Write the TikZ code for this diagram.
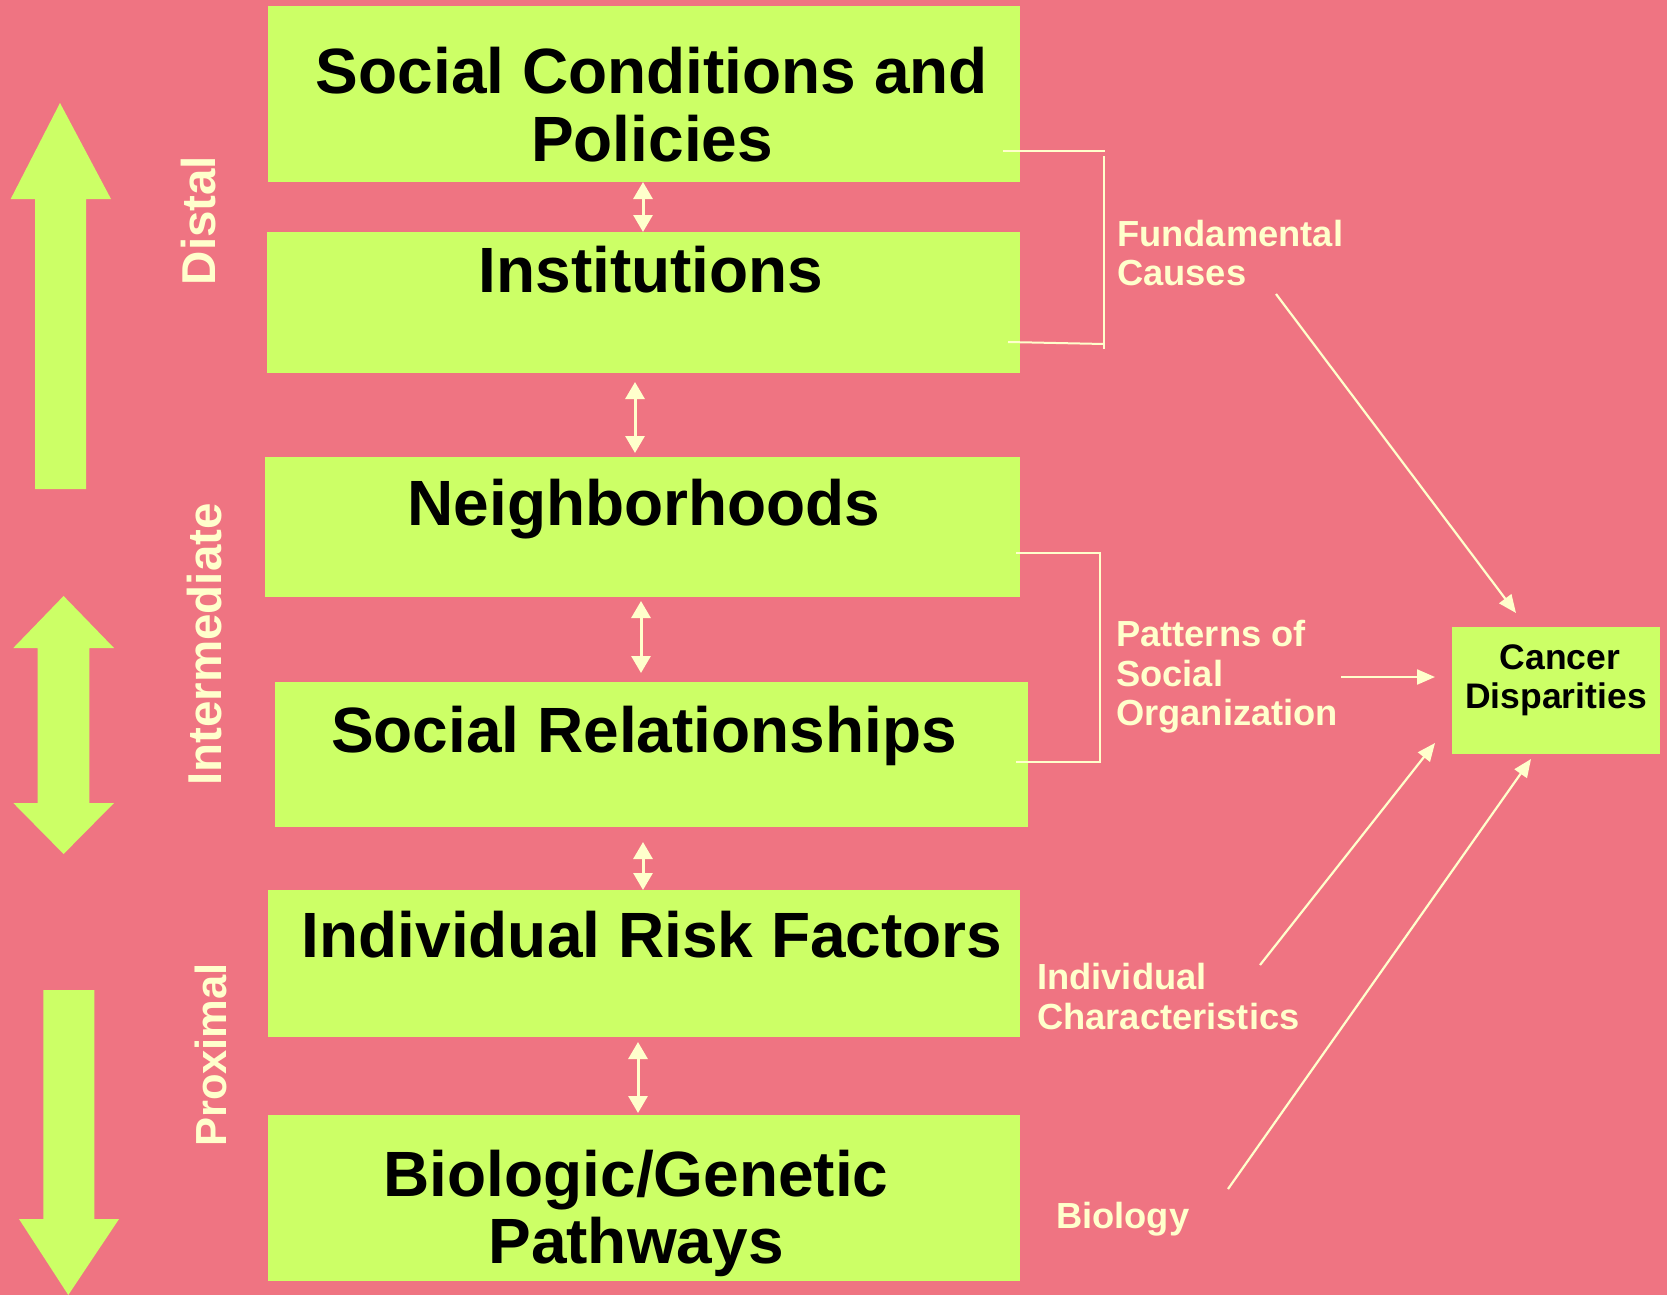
\documentclass[tikz,border=0pt]{standalone}
\usepackage{fontspec}
\setmainfont{Liberation Sans}
\usetikzlibrary{arrows.meta}
\definecolor{bgpink}{RGB}{239,116,130}
\definecolor{boxgreen}{RGB}{204,255,102}
\definecolor{cream}{RGB}{255,255,204}

\begin{document}
\begin{tikzpicture}[x=1pt,y=-1pt,
  level/.style={fill=boxgreen, draw=none, inner sep=0pt, outer sep=0pt},
  bigtext/.style={font=\fontsize{64}{68}\selectfont\bfseries, anchor=base, inner sep=0pt},
  smalltext/.style={font=\fontsize{35.5}{39}\selectfont\bfseries, anchor=base, inner sep=0pt},
  sidetext/.style={font=\fontsize{36.3}{39}\selectfont\bfseries, text=cream, anchor=base west, inner sep=0pt},
  scaletext/.style={font=\fontsize{47.5}{50}\selectfont\bfseries, text=cream, anchor=base, rotate=90, inner sep=0pt},
  linktip/.tip={Triangle[width=19pt,length=17pt]},
  feedtip/.tip={Triangle[width=15pt,length=18pt]},
  link/.style={draw=cream, line width=3pt, linktip-linktip},
  feed/.style={draw=cream, line width=2.2pt, -feedtip},
  brace/.style={draw=cream, line width=2pt},
  bigarrow/.style={fill=boxgreen}
]
% canvas
\useasboundingbox (0,0) rectangle (1667,1295);
\fill[bgpink] (0,0) rectangle (1667,1295);

% direction arrows on the left
\fill[bigarrow] (60,103) -- (111,199) -- (86,199) -- (86,489) -- (35,489) -- (35,199) -- (10.7,199) -- cycle;
\fill[bigarrow] (63.6,596) -- (114,648) -- (89.3,648) -- (89.3,803) -- (114,803) -- (63.6,854)
  -- (13.3,803) -- (37.7,803) -- (37.7,648) -- (13.3,648) -- cycle;
\fill[bigarrow] (43.3,990) -- (94.3,990) -- (94.3,1219) -- (119,1219) -- (68.3,1295) -- (19,1219) -- (43.3,1219) -- cycle;

% scale labels
\node[scaletext] (dist) at (215,220.5) {Distal};
\node[scaletext] (inter) at (221,644.5) {Intermediate};
\node[scaletext, font=\fontsize{43.5}{46}\selectfont\bfseries] (prox) at (226,1055) {Proximal};

% levels
\node[level, minimum width=752pt, minimum height=176pt] (b1) at (644,94) {};
\node[level, minimum width=753pt, minimum height=141pt] (b2) at (643.5,302.5) {};
\node[level, minimum width=755pt, minimum height=140pt] (b3) at (642.5,527) {};
\node[level, minimum width=753pt, minimum height=145.5pt] (b4) at (651.5,754.25) {};
\node[level, minimum width=752pt, minimum height=146.5pt] (b5) at (644,963.25) {};
\node[level, minimum width=752pt, minimum height=166pt] (b6) at (644,1198) {};
\node[level, minimum width=208pt, minimum height=127pt] (cd) at (1556,690.5) {};

% level titles
\node[bigtext] (t1a) at (652,94) {Social Conditions and};
\node[bigtext] (t1b) at (652,161.5) {Policies};
\node[bigtext] (t2) at (651,292) {Institutions};
\node[bigtext] (t3) at (644,525) {Neighborhoods};
\node[bigtext] (t4) at (644,752) {Social Relationships};
\node[bigtext] (t5) at (652,957) {Individual Risk Factors};
\node[bigtext] (t6a) at (636,1196) {Biologic/Genetic};
\node[bigtext] (t6b) at (636,1263) {Pathways};
\node[smalltext] (cda) at (1560,669) {Cancer};
\node[smalltext] (cdb) at (1556,708) {Disparities};

% links between neighbouring levels
\coordinate (x1) at (643,0);
\coordinate (x2) at (635,0);
\coordinate (x3) at (641,0);
\coordinate (x4) at (643,0);
\coordinate (x5) at (638,0);
\draw[link] (b1.south -| x1) -- (b2.north -| x1);
\draw[link, shorten <=9pt, shorten >=4pt] (b2.south -| x2) -- (b3.north -| x2);
\draw[link, shorten <=4pt, shorten >=8.5pt] (b3.south -| x3) -- (b4.north -| x3);
\draw[link, shorten <=15pt] (b4.south -| x4) -- (b5.north -| x4);
\draw[link, shorten <=5.5pt, shorten >=2pt] (b5.south -| x5) -- (b6.north -| x5);

% brackets
\draw[brace] (1003,151) -- (1105,151);
\draw[brace] (1104,156) -- (1104,349);
\draw[brace] (1008,342) -- (1104,344);
\draw[brace] (1016,553) -- (1100,553) -- (1100,762) -- (1016,762);

% cause labels
\node[sidetext] (fc1) at (1117,246) {Fundamental};
\node[sidetext] (fc2) at (1117,285) {Causes};
\node[sidetext] (ps1) at (1116,646) {Patterns of};
\node[sidetext] (ps2) at (1116,686) {Social};
\node[sidetext] (ps3) at (1116,725) {Organization};
\node[sidetext] (ic1) at (1037,989) {Individual};
\node[sidetext] (ic2) at (1037,1029) {Characteristics};
\node[sidetext] (bio) at (1056,1228) {Biology};

% arrows into cancer disparities
\coordinate (fcS) at (1276,294);
\coordinate (fcE) at (1516,613);
\coordinate (psS) at (1341,677);
\coordinate (psE) at (1435,677);
\coordinate (icS) at (1260,965);
\coordinate (icE) at (1435,743);
\coordinate (bioS) at (1228,1189);
\coordinate (bioE) at (1531,759);
\draw[feed] (fcS) -- (fcE);
\draw[feed] (psS) -- (psE);
\draw[feed] (icS) -- (icE);
\draw[feed] (bioS) -- (bioE);
\end{tikzpicture}
\end{document}
